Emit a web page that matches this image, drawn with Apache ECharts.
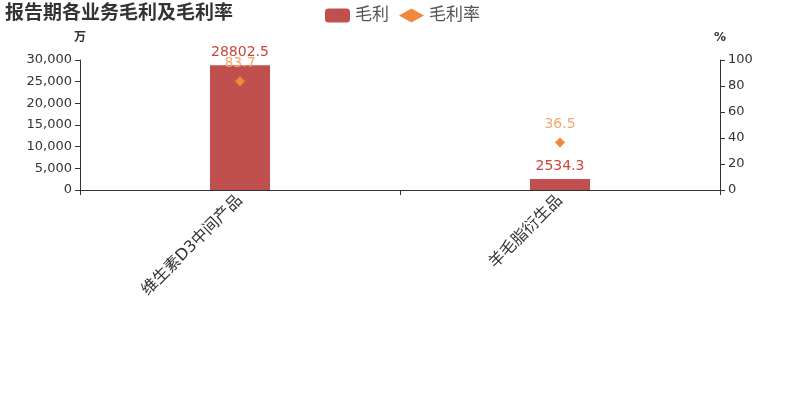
<!DOCTYPE html>
<html><head><meta charset="utf-8">
<script src="https://cdn.jsdelivr.net/npm/echarts@6/dist/echarts.min.js"></script>
<style>html,body{margin:0;padding:0;background:#fff}#c{width:800px;height:400px}</style>
</head><body><div id="c"></div>
<script>
const categories = ['维生素D3中间产品', '羊毛脂衍生品'];
const grossProfit = [28802.5, 2534.3];
const grossMargin = [83.7, 36.5];
const leftTicks = {min: 0, max: 30000, interval: 5000};
const rightTicks = {min: 0, max: 100, interval: 20};

const chart = echarts.init(document.getElementById('c'));
const font = '"DejaVu Sans", "Noto Sans CJK SC", sans-serif';
chart.setOption({
  animation: false,
  textStyle: {fontFamily: font},
  title: {text: '报告期各业务毛利及毛利率', left: 0, top: 0,
    textStyle: {fontSize: 19, fontWeight: 'bold', color: '#333', fontFamily: font}},
  legend: {left: 320, top: 2, itemWidth: 25, itemHeight: 14, itemGap: 10,
    textStyle: {fontSize: 17, color: '#555'},
    data: [{name: '毛利', icon: 'roundRect'}, {name: '毛利率', icon: 'diamond'}]},
  grid: {left: 80, right: 80, top: 60, bottom: 210},
  xAxis: {type: 'category', data: categories,
    axisLine: {lineStyle: {color: '#333'}},
    axisTick: {show: true, lineStyle: {color: '#333'}},
    axisLabel: {rotate: 45, fontSize: 16, color: '#333', margin: 8}},
  yAxis: [
    {type: 'value', name: '万', nameGap: 16, nameTextStyle: {color: '#333', fontSize: 12, fontWeight: 'bold'},
      min: leftTicks.min, max: leftTicks.max, interval: leftTicks.interval,
      axisLine: {show: true, lineStyle: {color: '#333'}}, axisTick: {show: true},
      splitLine: {show: false}, axisLabel: {fontSize: 13, color: '#333'}},
    {type: 'value', name: '%', nameGap: 16, nameTextStyle: {color: '#333', fontSize: 12, fontWeight: 'bold'},
      min: rightTicks.min, max: rightTicks.max, interval: rightTicks.interval,
      axisLine: {show: true, lineStyle: {color: '#333'}}, axisTick: {show: true},
      splitLine: {show: false}, axisLabel: {fontSize: 13, color: '#333'}}
  ],
  series: [
    {name: '毛利', type: 'bar', data: grossProfit, barWidth: 60, yAxisIndex: 0,
      itemStyle: {color: '#c0504d'},
      label: {show: true, position: 'top', distance: 6, color: '#c9463d', fontSize: 14}},
    {name: '毛利率', type: 'line', data: grossMargin, yAxisIndex: 1,
      symbol: 'diamond', symbolSize: 10, lineStyle: {width: 0, opacity: 0},
      itemStyle: {color: '#f0883e'},
      label: {show: true, position: 'top', distance: 6, color: '#f5a66a', fontSize: 14}}
  ]
});
</script></body></html>
